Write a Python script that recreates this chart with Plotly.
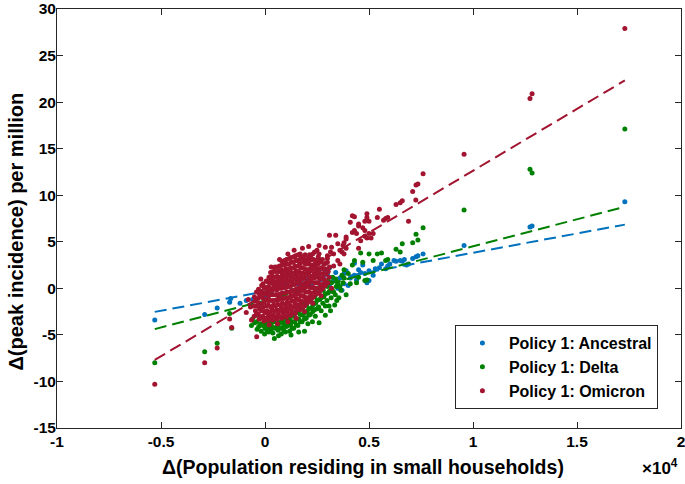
import plotly.graph_objects as go

# ---------------- data (x = change in population residing in small households) ----------------
series_names = ["Policy 1: Ancestral", "Policy 1: Delta", "Policy 1: Omicron"]
series_colors = ["#0072BD", "#008000", "#A2142F"]

ancestral_pts = [
    (-5300, -3.4), (-2900, -2.8), (-2300, -2.1), (-1700, -1.5), (-1650, -1.1), (-1200, -1.6), (-900, -1.3),
    (-600, -1.2), (-300, -1.8), (0, -1.0), (300, -0.4), (500, 0.0), (800, -0.8), (1000, 0.5), (1300, -0.2),
    (1500, -0.5), (1700, 0.8), (2000, 1.0), (2200, 0.3), (2500, 1.3), (2600, 2.0), (2800, 0.2), (2800, 1.2),
    (2900, 2.0), (3000, 1.5), (3100, 2.2), (3100, 0.4), (3200, -0.3), (3300, 0.85), (3400, 1.7), (3500, 0.6),
    (3500, 0.0), (3600, 1.1), (3700, -0.2), (3800, 1.6), (3800, 0.5), (3900, 1.9), (4000, 0.3), (4100, 1.1),
    (4300, 1.4), (4300, 2.7), (4400, 0.9), (4500, 2.0), (4600, 1.7), (4700, 2.5), (4800, 1.6), (4900, 0.6),
    (5000, 0.85), (5000, 1.9), (5200, 1.4), (5300, 2.1), (5500, 2.2), (5600, 2.6), (5800, 2.1), (5900, 2.4),
    (6000, 2.6), (6200, 3.0), (6300, 2.9), (6500, 3.0), (6600, 2.9), (6700, 3.1), (6800, 2.5), (6900, 2.6),
    (7100, 3.2), (7260, 3.4), (7350, 3.5), (7600, 3.7), (9570, 4.6), (12740, 6.6), (12840, 6.7), (17300, 9.3),
]

delta_pts = [
    (-5300, -8.0), (-2900, -6.8), (-2300, -5.9), (-1700, -2.7), (-1600, -4.3),
    (-600, -3.3), (-650, -4.0), (-400, -3.6), (-380, -4.4), (-420, -2.9), (-200, -3.8), (-180, -4.6),
    (-220, -3.1), (0, -4.3), (30, -3.7), (-20, -4.9), (200, -4.1), (180, -4.7), (230, -3.6), (400, -4.2),
    (420, -3.6), (380, -4.8), (450, -5.4), (600, -3.9), (630, -4.5), (580, -3.4), (650, -5.1), (800, -3.6),
    (820, -4.3), (780, -4.9), (850, -3.3), (1000, -3.5), (1030, -4.1), (980, -4.7), (1060, -3.2), (1200, -3.3),
    (1230, -3.9), (1180, -4.6), (1250, -5.0), (1400, -3.0), (1430, -3.6), (1380, -4.3), (1450, -2.6),
    (1600, -2.6), (1630, -3.3), (1580, -4.0), (1650, -2.2), (1620, -4.7), (1800, -2.2), (1830, -2.9),
    (1780, -3.6), (1850, -1.8), (1900, -4.6), (2000, -1.8), (2030, -2.5), (1980, -3.2), (2050, -1.3),
    (2060, -3.8), (2200, -1.4), (2230, -2.1), (2180, -2.8), (2250, -0.9), (2280, -3.6), (2400, -0.9),
    (2430, -1.6), (2380, -2.3), (2450, -0.4), (2420, -3.0), (2600, -0.5), (2630, -1.2), (2580, -2.0),
    (2650, 0.0), (2600, -3.7), (2800, -0.2), (2830, -0.9), (2780, -1.6), (2850, 0.4), (2900, -2.9),
    (3000, 0.2), (3030, -0.5), (2980, -1.3), (3050, 0.8), (3080, -1.9), (3200, 0.6), (3230, -0.2),
    (3180, -1.0), (3250, 1.2), (3150, -2.4), (3400, 1.0), (3430, 0.2), (3380, -0.7), (3450, -1.3),
    (3500, 0.5), (3700, 1.4), (3750, 0.6), (3650, -0.2), (3800, 2.0), (3900, -0.7), (3800, 1.1),
    (4000, 1.6), (4100, 0.5), (4200, 2.5), (4300, 3.0), (4400, 0.6), (4500, 1.2), (4600, 3.8), (4700, 2.8),
    (4800, 0.85), (4900, 0.9), (5000, 3.7), (5200, 3.0), (5400, 3.7), (5600, 3.8), (5800, 3.0), (5900, 3.1),
    (6300, 4.2), (6500, 3.9), (6600, 4.8), (7100, 4.9), (7260, 5.8), (7350, 5.2), (7600, 6.5), (9570, 8.4),
    (12740, 12.8), (12840, 12.4), (17300, 17.1),
    # extra density in the band below the Omicron cluster
    (-500, -3.7), (-300, -4.1), (-100, -4.0), (100, -3.9), (100, -4.5), (300, -3.8), (300, -4.4),
    (500, -3.6), (500, -4.3), (700, -3.7), (700, -4.2), (900, -3.9), (900, -4.5), (1100, -3.4),
    (1100, -4.0), (1300, -3.6), (1300, -4.3), (1500, -3.3), (1500, -3.9), (1700, -2.8), (1700, -3.6),
    (1900, -2.6), (1900, -3.3), (2100, -2.2), (2100, -2.9), (2300, -1.8), (2300, -2.5), (2500, -1.3),
    (2500, -2.2), (2700, -1.0), (2700, -2.4), (2900, -0.6), (2900, -1.9), (3100, -0.3), (3300, -0.4),
    (3350, -1.8), (3600, 0.2), (3550, -1.0),
]

omicron_pts = [
    # tails
    (-5300, -10.3), (-2900, -8.0), (-2300, -6.4), (-1700, -3.3), (-1600, -4.2), (-400, -5.2),
    (-700, -2.0), (-800, -1.2), (-650, -3.4), (-900, -2.6), (200, -3.9), (600, -3.8), (1100, -3.6),
    (1500, -3.2), (1900, -2.5), (2300, -1.6), (2700, -0.8), (3200, 0.0), (-200, 1.0), (300, 2.3),
    (700, 3.1), (1100, 3.7), (1400, 4.1), (1800, 4.3), (2100, 4.5),
    # core
    (-520, -3.0), (-460, -2.4), (-540, -1.9), (-480, -1.4), (-510, -0.9),
    (-280, -3.3), (-320, -2.8), (-260, -2.2), (-300, -1.6), (-340, -1.1), (-270, -0.6), (-310, -0.1),
    (-60, -3.5), (-100, -3.0), (-40, -2.5), (-90, -2.0), (-50, -1.5), (-110, -1.0), (-70, -0.5), (-30, 0.0), (-90, 0.5),
    (130, -3.4), (170, -2.9), (110, -2.4), (160, -1.8), (140, -1.3), (180, -0.8), (120, -0.3), (170, 0.2), (140, 0.7), (190, 1.2),
    (360, -3.4), (400, -2.9), (350, -2.3), (410, -1.8), (370, -1.3), (390, -0.7), (340, -0.2), (420, 0.3), (380, 0.8), (360, 1.3), (400, 1.8),
    (580, -3.3), (630, -2.8), (570, -2.3), (610, -1.7), (590, -1.2), (640, -0.7), (560, -0.2), (620, 0.3), (600, 0.8), (580, 1.3), (630, 1.8), (590, 2.3),
    (800, -3.2), (850, -2.6), (790, -2.1), (840, -1.6), (810, -1.1), (830, -0.5), (780, 0.0), (860, 0.5), (800, 1.0), (840, 1.5), (790, 2.0), (830, 2.5), (810, 2.9),
    (1020, -3.1), (1060, -2.5), (1010, -2.0), (1070, -1.5), (1030, -1.0), (1050, -0.4), (1000, 0.1), (1080, 0.6), (1020, 1.1), (1060, 1.6), (1010, 2.1), (1050, 2.6), (1030, 3.1),
    (1240, -2.9), (1280, -2.4), (1230, -1.9), (1290, -1.3), (1250, -0.8), (1270, -0.3), (1220, 0.2), (1300, 0.7), (1240, 1.2), (1280, 1.7), (1230, 2.2), (1270, 2.8), (1250, 3.3),
    (1460, -2.7), (1500, -2.1), (1450, -1.6), (1510, -1.1), (1470, -0.6), (1490, -0.1), (1440, 0.4), (1520, 0.9), (1460, 1.4), (1500, 1.9), (1450, 2.4), (1490, 3.0), (1470, 3.5),
    (1680, -2.3), (1720, -1.8), (1670, -1.3), (1730, -0.8), (1690, -0.3), (1710, 0.2), (1660, 0.7), (1740, 1.2), (1680, 1.7), (1720, 2.2), (1670, 2.7), (1710, 3.2), (1690, 3.7),
    (1900, -1.9), (1940, -1.4), (1890, -0.9), (1950, -0.4), (1910, 0.1), (1930, 0.6), (1880, 1.1), (1960, 1.6), (1900, 2.1), (1940, 2.6), (1890, 3.1), (1930, 3.6),
    (2120, -1.4), (2160, -0.9), (2110, -0.4), (2170, 0.1), (2130, 0.6), (2150, 1.1), (2100, 1.6), (2180, 2.1), (2120, 2.6), (2160, 3.1), (2140, 3.6),
    (2340, -0.9), (2380, -0.4), (2330, 0.1), (2390, 0.6), (2350, 1.1), (2370, 1.6), (2320, 2.1), (2400, 2.6), (2340, 3.1), (2380, 3.9),
    (2560, -0.5), (2600, 0.0), (2550, 0.6), (2610, 1.1), (2570, 1.6), (2590, 2.1), (2540, 2.6), (2620, 3.1), (2560, 3.4),
    (2780, 0.0), (2830, 0.5), (2770, 1.1), (2820, 1.6), (2790, 2.1), (2840, 2.6), (2760, 3.1),
    (3020, 0.6), (3080, 1.2), (3040, 1.8), (3100, 2.3), (3000, 3.2), (3150, 3.9),
    # interleaved core points
    (-400, -2.7), (-390, -1.9), (-420, -1.2), (-410, -0.4), (-180, -3.1), (-200, -2.4), (-170, -1.7),
    (-210, -0.9), (-190, -0.3), (-160, 0.3), (40, -3.2), (20, -2.6), (60, -1.9), (30, -1.2), (50, -0.6),
    (10, 0.1), (60, 0.8), (260, -3.1), (240, -2.6), (280, -2.0), (250, -1.3), (270, -0.7), (230, 0.0),
    (290, 0.6), (250, 1.1), (270, 1.7), (480, -3.1), (460, -2.5), (500, -1.9), (470, -1.3), (510, -0.7),
    (450, 0.0), (490, 0.6), (470, 1.2), (510, 1.8), (480, 2.3), (700, -3.0), (680, -2.4), (720, -1.8),
    (690, -1.2), (730, -0.6), (670, 0.0), (710, 0.6), (690, 1.2), (730, 1.8), (700, 2.4), (920, -2.9),
    (900, -2.3), (940, -1.7), (910, -1.1), (950, -0.5), (890, 0.1), (930, 0.7), (910, 1.3), (950, 1.9),
    (920, 2.5), (940, 3.0), (1140, -2.8), (1120, -2.2), (1160, -1.6), (1130, -1.0), (1170, -0.4),
    (1110, 0.2), (1150, 0.8), (1130, 1.4), (1170, 2.0), (1140, 2.6), (1160, 3.2), (1360, -2.6),
    (1340, -2.0), (1380, -1.4), (1350, -0.8), (1390, -0.2), (1330, 0.4), (1370, 1.0), (1350, 1.6),
    (1390, 2.2), (1360, 2.8), (1380, 3.4), (1580, -2.3), (1560, -1.8), (1600, -1.2), (1570, -0.6),
    (1610, 0.0), (1550, 0.6), (1590, 1.2), (1570, 1.8), (1610, 2.4), (1580, 3.0), (1600, 3.6),
    (1800, -2.0), (1780, -1.4), (1820, -0.8), (1790, -0.2), (1830, 0.4), (1770, 1.0), (1810, 1.6),
    (1790, 2.2), (1830, 2.8), (1800, 3.4), (2020, -1.6), (2000, -1.0), (2040, -0.4), (2010, 0.2),
    (2050, 0.8), (1990, 1.4), (2030, 2.0), (2010, 2.6), (2050, 3.2), (2240, -1.1), (2220, -0.5),
    (2260, 0.1), (2230, 0.7), (2270, 1.3), (2210, 1.9), (2250, 2.5), (2230, 3.1), (2460, -0.6),
    (2440, 0.0), (2480, 0.6), (2450, 1.2), (2490, 1.8), (2430, 2.4), (2470, 3.0), (2680, -0.2),
    (2660, 0.4), (2700, 1.0), (2670, 1.6), (2710, 2.2), (2650, 2.8), (2900, 0.3), (2880, 0.9),
    (2920, 1.5), (2890, 2.1), (2930, 2.7),
    # upper spread
    (2000, 3.0), (2200, 3.3), (2300, 3.7), (2400, 2.2), (2500, 4.1), (2600, 3.7), (2600, 4.6), (2900, 4.4),
    (3000, 2.8), (3000, 3.5), (3100, 5.7), (3200, 4.4), (3300, 2.4), (3300, 3.7), (3400, 5.7), (3500, 4.8),
    (3500, 3.0), (3600, 2.6), (3600, 4.1), (3700, 3.9), (3750, 4.6), (3800, 3.7), (3800, 4.9), (3900, 5.3),
    (3900, 4.3), (3900, 5.5), (4100, 7.1), (4200, 7.8), (4200, 6.0), (4300, 7.7), (4300, 6.2), (4400, 5.9),
    (4500, 6.7), (4500, 6.9), (4500, 4.3), (4600, 5.1), (4700, 6.5), (4800, 7.2), (4800, 6.2), (4800, 5.6),
    (4900, 8.0), (4900, 7.6), (4900, 5.4), (5000, 7.2), (5000, 5.9), (5100, 5.4), (5200, 5.9), (5400, 7.6),
    (5500, 8.5), (5700, 7.3), (5800, 7.5), (5900, 7.6), (6300, 9.0), (6500, 9.2), (6600, 9.4), (6900, 7.2),
    (7100, 10.4), (7250, 9.5), (7260, 11.1), (7350, 11.2), (7600, 12.3), (9570, 14.4), (12740, 20.4),
    (12840, 20.9), (17300, 27.9),
]

# least-squares fit lines: y = slope * (x / 1e4) + intercept
fit_slope_per_1e4 = [4.146, 5.81, 13.28]
fit_intercept = [-0.33, -1.30, -0.65]
fit_x_range = [-5300, 17300]

x_tickvals = [-10000, -5000, 0, 5000, 10000, 15000, 20000]
x_ticktext = ["-1", "-0.5", "0", "0.5", "1", "1.5", "2"]
y_tickvals = [-15, -10, -5, 0, 5, 10, 15, 20, 25, 30]
y_ticktext = ["-15", "-10", "-5", "0", "5", "10", "15", "20", "25", "30"]

x_title = "Δ(Population residing in small households)"
y_title = "Δ(peak incidence) per million"

# ---------------- figure ----------------
FONT = "Liberation Sans, Arial, Helvetica, sans-serif"
fig = go.Figure()

for name, color, pts, slope, icpt in zip(series_names, series_colors,
                                         [ancestral_pts, delta_pts, omicron_pts],
                                         fit_slope_per_1e4, fit_intercept):
    xs = [p[0] for p in pts]
    ys = [p[1] for p in pts]
    fig.add_trace(go.Scatter(
        x=xs, y=ys, mode="markers", name="<b>%s</b>" % name,
        marker=dict(color=color, size=5, line=dict(width=0)),
    ))
    lx = fit_x_range
    ly = [slope * (v / 1e4) + icpt for v in lx]
    fig.add_trace(go.Scatter(
        x=lx, y=ly, mode="lines", showlegend=False, hoverinfo="skip",
        line=dict(color=color, width=2, dash="12px,6px"),
    ))

axis_common = dict(
    showgrid=False, zeroline=False, showline=True, linecolor="#262626", linewidth=1,
    mirror="ticks", ticks="inside", ticklen=6, tickwidth=1, tickcolor="#262626",
    tickfont=dict(family=FONT, size=15.5, color="black"),
    ticklabeloverflow="allow", automargin=False,
)

fig.update_xaxes(range=[-10000, 20000], tickvals=x_tickvals,
                 ticktext=["<b>%s</b>" % t for t in x_ticktext],
                 ticklabelstandoff=-1, **axis_common)
fig.update_yaxes(range=[-15, 30], tickvals=y_tickvals,
                 ticktext=["<b>%s</b>" % t for t in y_ticktext],
                 ticklabelstandoff=-3, **axis_common)

fig.update_layout(
    width=685, height=484,
    margin=dict(l=57, r=4, t=9, b=56),
    paper_bgcolor="white", plot_bgcolor="white",
    showlegend=True,
    legend=dict(
        x=0.963, y=0.045, xanchor="right", yanchor="bottom",
        bgcolor="white", bordercolor="#262626", borderwidth=1,
        font=dict(family=FONT, size=16, color="black"),
        itemwidth=43, tracegroupgap=0,
    ),
    annotations=[
        dict(text="<b>%s</b>" % x_title, xref="paper", yref="paper", x=0.49, y=-0.093,
             xanchor="center", yanchor="middle", showarrow=False,
             font=dict(family=FONT, size=19.5, color="black")),
        dict(text="<b>%s</b>" % y_title, xref="paper", yref="paper", x=-0.065, y=0.47,
             xanchor="center", yanchor="middle", showarrow=False, textangle=-90,
             font=dict(family=FONT, size=20, color="black")),
        dict(text="<b>×10<sup>4</sup></b>", xref="paper", yref="paper", x=0.935, y=-0.093,
             xanchor="left", yanchor="middle", showarrow=False,
             font=dict(family=FONT, size=17, color="black")),
    ],
)

fig.write_html("out.html", config={"displayModeBar": False},
               post_script="document.body.style.margin='0';")
